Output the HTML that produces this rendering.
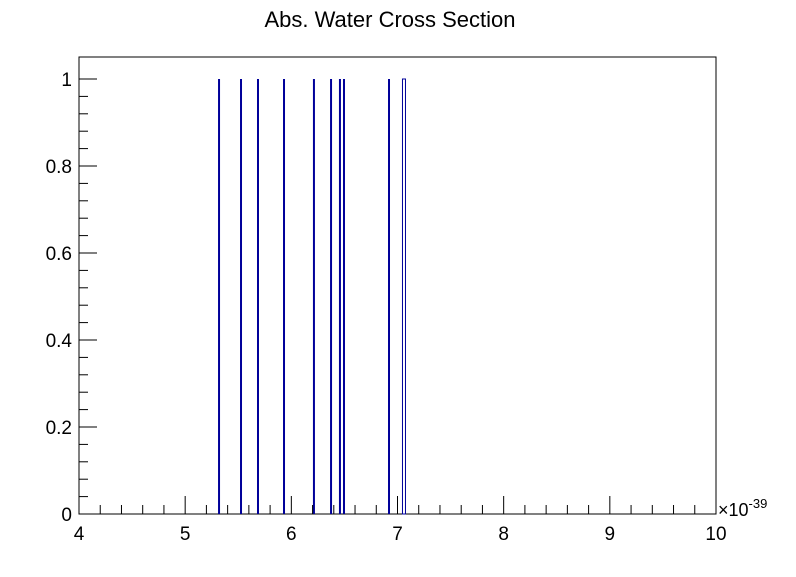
<!DOCTYPE html>
<html><head><meta charset="utf-8"><style>
body{margin:0;background:#fff;width:796px;height:572px;overflow:hidden;font-family:"Liberation Sans",sans-serif}
</style></head><body>
<svg width="796" height="572" id="c">
<rect x="0" y="0" width="796" height="572" fill="#fff"/>
<text x="390" y="27" font-size="22" text-anchor="middle">Abs. Water Cross Section</text>
<rect x="79" y="57" width="637" height="457" fill="none" stroke="#000" stroke-width="1"/>
<g id="bars"></g>
<g id="axes"></g>
<text x="718" y="516" font-size="18">×10<tspan font-size="13" dy="-8">-39</tspan></text>
</svg>
<script>
const binCenters=[5.319,5.526,5.686,5.931,6.213,6.374,6.458,6.496,6.920,7.061];
const binValues=[1,1,1,1,1,1,1,1,1,1];
const xTicks=[4,5,6,7,8,9,10];
const yTicks=[0,0.2,0.4,0.6,0.8,1];
const yTickLabels=["0","0.2","0.4","0.6","0.8","1"];
const X0=79,X1=716,Y0=514,Y1=79;
const xs=v=>X0+(v-4)/6*(X1-X0);
const ys=v=>Y0-(v)*(Y0-Y1);
const NS="http://www.w3.org/2000/svg";
const bars=document.getElementById('bars'),axes=document.getElementById('axes');
function mk(t,a,p){const e=document.createElementNS(NS,t);for(const k in a)e.setAttribute(k,a[k]);p.appendChild(e);return e;}
binCenters.forEach((c,i)=>{
 const last=i===binCenters.length-1;
 let r;
 if(last){
  r=mk('rect',{x:xs(c)-1.5,y:ys(binValues[i]),width:3,height:Y0-ys(binValues[i]),fill:'none',stroke:'#000099','stroke-width':1},bars);
 } else {
  r=mk('line',{x1:xs(c),x2:xs(c),y1:ys(binValues[i]),y2:Y0,stroke:'#000099','stroke-width':2},bars);
 }
 
 
});
for(let v=4;v<=10.001;v+=0.2){
 const major=Math.abs(v-Math.round(v))<1e-6;
 const l=mk('line',{x1:xs(v),x2:xs(v),y1:Y0,y2:Y0-(major?18:9),stroke:'#000'},axes);
 
 
}
xTicks.forEach(v=>{
 const t=mk('text',{x:xs(v),y:540,'font-size':19,'text-anchor':'middle'},axes);
 t.textContent=String(v);
 
 
});
for(let v=0;v<=1.0001;v+=0.04){
 const major=Math.abs(v*5-Math.round(v*5))<1e-6;
 const l=mk('line',{x1:X0,x2:X0+(major?18:9),y1:ys(v),y2:ys(v),stroke:'#000'},axes);
 
 
}
yTicks.forEach((v,i)=>{
 const t=mk('text',{x:X0-7,y:ys(v)+7,'font-size':19,'text-anchor':'end'},axes);
 t.textContent=yTickLabels[i];
 
 
});
</script>
</body></html>
